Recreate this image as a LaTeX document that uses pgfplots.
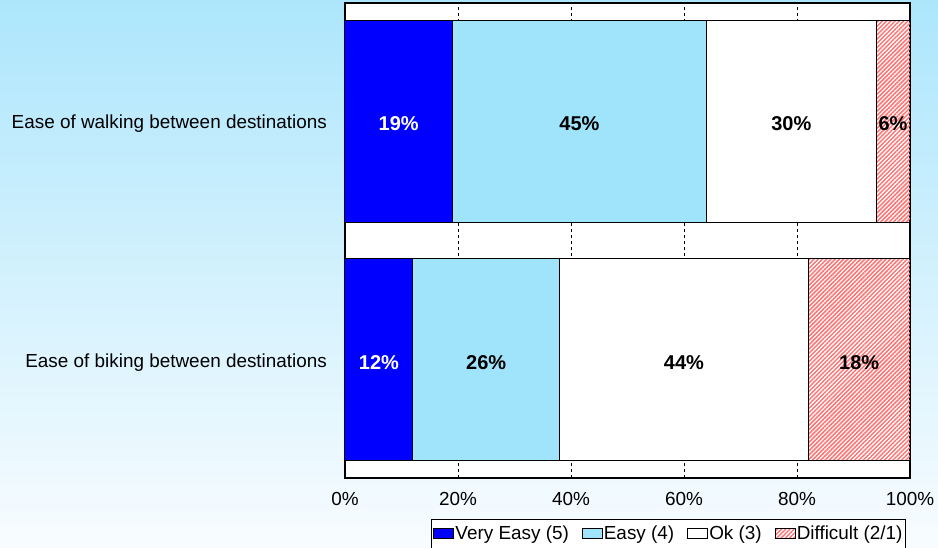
\documentclass[border=0pt]{standalone}
\usepackage{pgfplots}
\pgfplotsset{compat=1.18}
\usepackage{fontspec}
\setmainfont{Liberation Sans}
\usetikzlibrary{patterns.meta}
\definecolor{bgtop}{RGB}{173,230,252}
\definecolor{bgbot}{RGB}{248,252,255}
\definecolor{vblue}{RGB}{0,0,255}
\definecolor{lblue}{RGB}{160,228,252}
\definecolor{hatch}{RGB}{255,115,115}
\begin{document}
\begin{tikzpicture}[font=\fontsize{9.45}{11}\selectfont]
\shade[top color=bgtop, bottom color=bgbot] (0,0) rectangle (469pt,273.5pt);
\pgfplotsset{
  myaxis/.style={
    at={(172.5pt,34.5pt)}, anchor=south west,
    scale only axis, width=282.5pt, height=237.5pt,
    xmin=0, xmax=100, ymin=-0.494, ymax=1.494,
  }
}
\begin{axis}[
  myaxis,
  xbar stacked, bar width=101pt,
  axis background/.style={fill=white},
  axis line style={line width=1pt},
  ytick={0,1},
  yticklabels={Ease of biking between destinations, Ease of walking between destinations},
  xtick={0,20,40,60,80,100},
  xticklabel={\pgfmathprintnumber{\tick}\%},
  /pgf/number format/assume math mode=true,
  major tick length=0pt,
  yticklabel style={xshift=-5.5pt, yshift=-1.5pt},
  xticklabel style={yshift=-3.5pt},
  xmajorgrids,
  major grid style={black, line width=0.5pt, dash pattern=on 1.5pt off 1.5pt},
  area legend,
  legend image code/.code={\draw[#1, line width=0.5pt] (0pt,-2.5pt) rectangle (10pt,2.5pt);},
  legend columns=4,
  legend style={at={(rel axis cs:0.9929,-0.0863)}, anchor=north east,
    draw=black, fill=white, line width=0.5pt, inner xsep=1pt, inner ysep=1.5pt,
    /tikz/every even column/.append style={column sep=6pt},
    /tikz/every odd column/.append style={column sep=0pt},
    nodes={inner xsep=0.5pt, inner ysep=1.5pt}},
]
\addplot[fill=vblue, draw=black, line width=0.5pt] coordinates {(12,0) (19,1)};
\addplot[fill=lblue, draw=black, line width=0.5pt] coordinates {(26,0) (45,1)};
\addplot[fill=white, draw=black, line width=0.5pt] coordinates {(44,0) (30,1)};
\addplot[draw=black, line width=0.5pt, pattern={Lines[angle=45,distance=1.5pt,line width=0.75pt]}, pattern color=hatch] coordinates {(18,0) (6,1)};
\legend{Very Easy (5), Easy (4), Ok (3), Difficult (2/1)}
\end{axis}
\begin{axis}[myaxis, hide axis]
\addplot[only marks, mark=*, mark size=0pt, mark options={draw=none, fill=none},
  nodes near coords, point meta=explicit symbolic,
  nodes near coords style={anchor=center, yshift=-1.5pt, font=\bfseries, text=white}]
  table[meta=l] {
x y l
9.5 1 19\%
6 0 12\%
};
\addplot[only marks, mark=*, mark size=0pt, mark options={draw=none, fill=none},
  nodes near coords, point meta=explicit symbolic,
  nodes near coords style={anchor=center, yshift=-1.5pt, font=\bfseries, text=black}]
  table[meta=l] {
x y l
41.5 1 45\%
79 1 30\%
97 1 6\%
25 0 26\%
60 0 44\%
91 0 18\%
};
\end{axis}
\pgfresetboundingbox
\path[use as bounding box] (0,0) rectangle (469pt,273.5pt);
\end{tikzpicture}
\end{document}
